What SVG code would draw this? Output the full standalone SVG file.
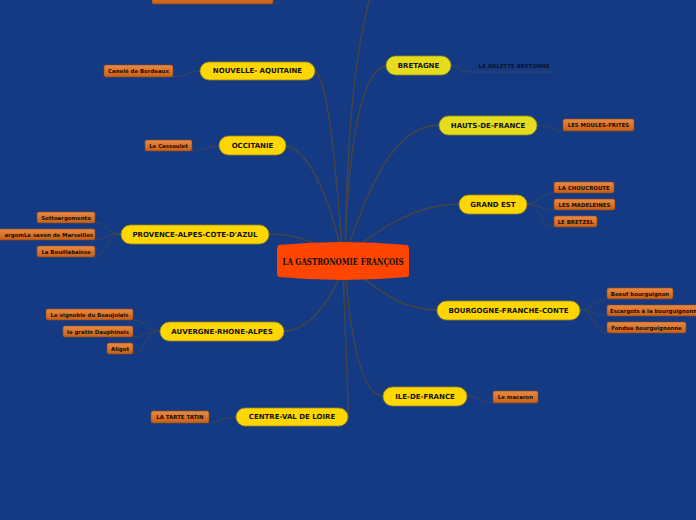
<svg xmlns="http://www.w3.org/2000/svg" width="696" height="520" viewBox="0 0 696 520">
<defs>
<linearGradient id="og" x1="0" y1="0" x2="0" y2="1">
<stop offset="0" stop-color="#e98a45"/>
<stop offset="1" stop-color="#c85f16"/>
</linearGradient>
<style>
.main{fill:none;stroke:#454545;stroke-width:1.5}
.sub{fill:none;stroke:#3a4458;stroke-width:1}
.yn{fill:#ffd700;stroke:#9a8420;stroke-width:0.8}
.yg{fill:#e6dc1e;stroke:#8f8a20;stroke-width:0.8}
.on{fill:url(#og);stroke:#8e4a16;stroke-width:0.6}
.yt{font-family:"DejaVu Sans","Liberation Sans",sans-serif;font-weight:bold;font-size:7px;fill:#111;text-anchor:middle;dominant-baseline:central}
.ot{font-family:"DejaVu Sans","Liberation Sans",sans-serif;font-weight:bold;font-size:5.4px;fill:#1a0d00;text-anchor:middle;dominant-baseline:central}
</style>
</defs>
<rect x="0" y="0" width="696" height="520" fill="#143a84"/>
<g id="connectors">
<path class="main" d="M345,255 C347,150 352,60 372,-10"/>
<path class="main" d="M345,255 C348,150 360,70 386,66"/>
<path class="main" d="M345,255 C365,200 390,125 439,125"/>
<path class="main" d="M345,258 C380,225 420,204 459,204"/>
<path class="main" d="M345,265 C380,290 400,310 437,310"/>
<path class="main" d="M345,268 C350,330 360,396 383,396"/>
<path class="main" d="M343,268 C345,330 348,380 348,417"/>
<path class="main" d="M343,270 C330,300 310,331 284,331"/>
<path class="main" d="M343,258 C320,245 300,234 269,234"/>
<path class="main" d="M286,146 C310,150 330,200 343,258"/>
<path class="main" d="M315,71 C330,80 338,200 343,258"/>
<path class="sub" d="M273,4 Q280,4 285,-5"/>
<path class="sub" d="M200,71 C190,71 185,77 173,77"/>
<path class="sub" d="M219,146 C208,146 202,151 192,151"/>
<path class="sub" d="M121,234 C105,234 108,223 95,223"/>
<path class="sub" d="M121,234 C108,234 105,240 95,240"/>
<path class="sub" d="M121,234 C108,234 105,257 95,257"/>
<path class="sub" d="M160,331 C145,331 148,320 133,320"/>
<path class="sub" d="M160,331 C145,331 145,337 133,337"/>
<path class="sub" d="M160,331 C145,331 145,354 133,354"/>
<path class="sub" d="M236,417 C222,417 220,423 209,423"/>
<path class="sub" d="M527,204 C540,204 540,193 554,193"/>
<path class="sub" d="M527,204 C540,204 540,210 554,210"/>
<path class="sub" d="M527,204 C540,204 540,227 554,227"/>
<path class="sub" d="M580,310 C595,310 593,299 607,299"/>
<path class="sub" d="M580,310 C595,310 593,316 607,316"/>
<path class="sub" d="M580,310 C595,310 593,333 607,333"/>
<path class="sub" d="M537,125 C550,125 552,131 563,131"/>
<path class="sub" d="M467,396 C480,396 482,403 493,403"/>
<path class="sub" d="M451,66 C460,66 460,72 468,72 L552,72"/>
</g>
<g id="top-child"><rect class="on" x="152" y="-10" width="121" height="14" rx="2"/></g>
<g id="center">
<path d="M279,245 Q343,239 407,245 Q409,246 409,249 L409,274 Q409,277 407,277 Q343,283 279,277 Q277,276 277,273 L277,249 Q277,246 279,245 Z" fill="#ff4500"/>
<text x="343" y="261" font-family="DejaVu Serif,Liberation Serif,serif" font-weight="bold" font-size="9.5" fill="#111" text-anchor="middle" dominant-baseline="central" textLength="121" lengthAdjust="spacingAndGlyphs">LA GASTRONOMIE FRANÇOIS</text>
</g>
<g id="nouvelle-aquitaine"><rect class="yn" x="200" y="62" width="115" height="18" rx="9"/><text class="yt" x="257.5" y="71">NOUVELLE- AQUITAINE</text></g>
<g id="canele"><rect class="on" x="104" y="65" width="69" height="12" rx="2"/><text class="ot" x="138.5" y="71">Canelé de Bordeaux</text></g>
<g id="occitanie"><rect class="yn" x="219" y="136" width="67" height="19" rx="9.5"/><text class="yt" x="252.5" y="145.5">OCCITANIE</text></g>
<g id="cassoulet"><rect class="on" x="145" y="140" width="47" height="11" rx="2"/><text class="ot" x="168.5" y="145.5">Le Cassoulet</text></g>
<g id="bretagne"><rect class="yg" x="386" y="56" width="65" height="19" rx="9.5"/><text class="yt" x="418.5" y="65.5">BRETAGNE</text></g>
<g id="galette"><text x="514" y="66" font-family="DejaVu Sans,Liberation Sans,sans-serif" font-size="5.4" font-weight="bold" fill="#0b1226" text-anchor="middle" dominant-baseline="central">LA GALETTE BRETONNE</text></g>
<g id="hauts-de-france"><rect class="yg" x="439" y="116" width="98" height="19" rx="9.5"/><text class="yt" x="488" y="125.5">HAUTS-DE-FRANCE</text></g>
<g id="moules"><rect class="on" x="563" y="119" width="71" height="12" rx="2"/><text class="ot" x="598.5" y="125">LES MOULES-FRITES</text></g>
<g id="provence"><rect class="yn" x="121" y="225" width="148" height="19" rx="9.5"/><text class="yt" x="195" y="234.5">PROVENCE-ALPES-COTE-D'AZUL</text></g>
<g id="sotto"><rect class="on" x="37" y="212" width="58" height="11" rx="2"/><text class="ot" x="66" y="217.5">Sottoargomento</text></g>
<g id="savon"><rect class="on" x="-30" y="229" width="125" height="11" rx="2"/><text class="ot" x="93" y="234.5" style="text-anchor:end">argomLe savon de Marseilles</text></g>
<g id="bouillabaisse"><rect class="on" x="37" y="246" width="58" height="11" rx="2"/><text class="ot" x="66" y="251.5">La Bouillabaisse</text></g>
<g id="grand-est"><rect class="yn" x="459" y="195" width="68" height="19" rx="9.5"/><text class="yt" x="493" y="204.5">GRAND EST</text></g>
<g id="choucroute"><rect class="on" x="554" y="182" width="60" height="11" rx="2"/><text class="ot" x="584" y="187.5">LA CHOUCROUTE</text></g>
<g id="madeleines"><rect class="on" x="554" y="199" width="61" height="11" rx="2"/><text class="ot" x="584.5" y="204.5">LES MADELEINES</text></g>
<g id="bretzel"><rect class="on" x="554" y="216" width="43" height="11" rx="2"/><text class="ot" x="575.5" y="221.5">LE BRETZEL</text></g>
<g id="bourgogne"><rect class="yn" x="437" y="301" width="143" height="19" rx="9.5"/><text class="yt" x="508.5" y="310.5">BOURGOGNE-FRANCHE-CONTE</text></g>
<g id="boeuf"><rect class="on" x="607" y="288" width="66" height="11" rx="2"/><text class="ot" x="640" y="293.5">Boeuf bourguignon</text></g>
<g id="escargots"><rect class="on" x="607" y="305" width="100" height="11" rx="2"/><text class="ot" x="610" y="310.5" style="text-anchor:start">Escargots à la bourguignonne</text></g>
<g id="fondue"><rect class="on" x="607" y="322" width="79" height="11" rx="2"/><text class="ot" x="646.5" y="327.5">Fondue bourguignonne</text></g>
<g id="auvergne"><rect class="yn" x="160" y="322" width="124" height="19" rx="9.5"/><text class="yt" x="222" y="331.5">AUVERGNE-RHONE-ALPES</text></g>
<g id="beaujolais"><rect class="on" x="46" y="309" width="87" height="11" rx="2"/><text class="ot" x="89.5" y="314.5">Le vignoble du Beaujolais</text></g>
<g id="gratin"><rect class="on" x="63" y="326" width="70" height="11" rx="2"/><text class="ot" x="98" y="331.5">le gratin Dauphinois</text></g>
<g id="aligot"><rect class="on" x="107" y="343" width="26" height="11" rx="2"/><text class="ot" x="120" y="348.5">Aligot</text></g>
<g id="ile-de-france"><rect class="yn" x="383" y="387" width="84" height="19" rx="9.5"/><text class="yt" x="425" y="396.5">ILE-DE-FRANCE</text></g>
<g id="macaron"><rect class="on" x="493" y="391" width="45" height="12" rx="2"/><text class="ot" x="515.5" y="397">Le macaron</text></g>
<g id="centre-val-de-loire"><rect class="yn" x="236" y="408" width="112" height="18" rx="9"/><text class="yt" x="292" y="417">CENTRE-VAL DE LOIRE</text></g>
<g id="tarte-tatin"><rect class="on" x="151" y="411" width="58" height="12" rx="2"/><text class="ot" x="180" y="417">LA TARTE TATIN</text></g>
</svg>
